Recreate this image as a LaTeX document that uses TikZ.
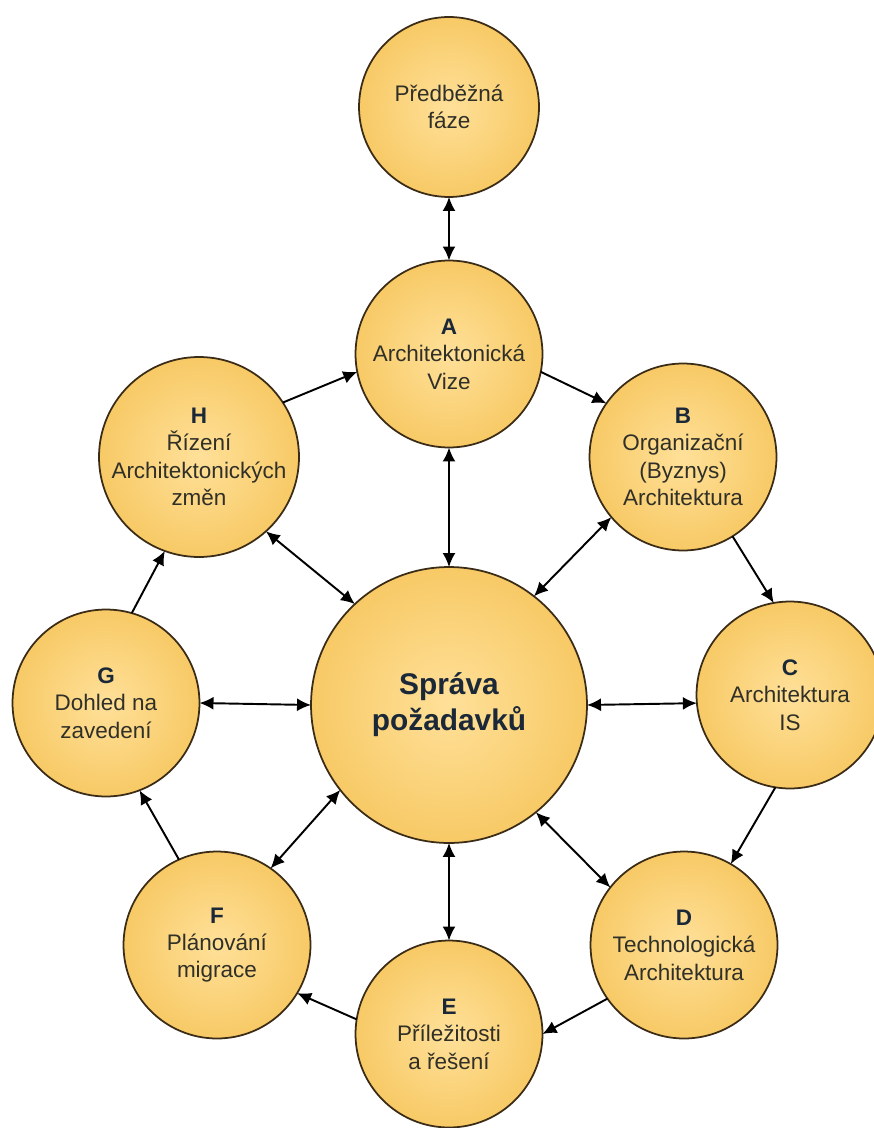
\documentclass[tikz,border=0pt]{standalone}
\usepackage{fontspec}
\setmainfont{Liberation Sans}
\usetikzlibrary{arrows.meta}
\definecolor{phaseText}{RGB}{48,48,40}
\definecolor{phaseLetter}{RGB}{26,40,56}
\definecolor{phaseRim}{RGB}{58,44,22}
\pgfdeclareradialshading{phaseGlow}{\pgfpoint{0bp}{0bp}}{rgb(0bp)=(1,0.88,0.6); rgb(50bp)=(0.94,0.70,0.2); rgb(100bp)=(0.94,0.70,0.2)}
\newcommand{\phaseSize}{3.74cm}
\newcommand{\preSize}{3.6cm}
\newcommand{\coreSize}{5.52cm}
\newcommand{\phaseTag}[1]{{\color{phaseLetter}\textbf{#1}}}

\begin{document}
\begin{tikzpicture}[x=0.02cm, y=-0.02cm,
    >={Latex[length=2.8mm,width=2.6mm]},
    phase/.style={circle, draw=phaseRim, line width=1pt, shading=phaseGlow,
      minimum size=\phaseSize, inner sep=0pt, outer sep=0pt, align=center,
      text=phaseText, font=\fontsize{12.8}{15.6}\selectfont},
    core/.style={phase, minimum size=\coreSize, text=phaseLetter,
      font=\fontsize{17}{20.5}\selectfont\bfseries},
    cycleArrow/.style={->, line width=1.1pt},
    coreArrow/.style={<->, line width=1.1pt}]
  \useasboundingbox (0,0) rectangle (874,1128);

  \node[phase, minimum size=\preSize] (pre) at (449,107) {Předběžná\\fáze};
  \node[phase] (a) at (449,354) {\phaseTag{A}\\Architektonická\\Vize};
  \node[phase] (b) at (683,457) {\phaseTag{B}\\Organizační\\(Byznys)\\Architektura};
  \node[phase] (c) at (790,695) {\phaseTag{C}\\Architektura\\IS};
  \node[phase] (d) at (684,945) {\phaseTag{D}\\Technologická\\Architektura};
  \node[phase] (e) at (449,1034) {\phaseTag{E}\\Příležitosti\\a řešení};
  \node[phase] (f) at (217,945) {\phaseTag{F}\\Plánování\\migrace};
  \node[phase] (g) at (106,703) {\phaseTag{G}\\Dohled na\\zavedení};
  \node[phase] (h) at (199,457) {\phaseTag{H}\\Řízení\\Architektonických\\změn};
  \node[core] (core) at (449,705) {Správa\\požadavků};

  % cycle A -> H
  \draw[cycleArrow] (h.33) -- (a.191);
  \draw[cycleArrow] (a.349) -- (b.145);
  \draw[cycleArrow] (b.302) -- (c.100);
  \draw[cycleArrow] (c.261) -- (d.60);
  \draw[cycleArrow] (d.215) -- (e.0);
  \draw[cycleArrow] (e.171) -- (f.329);
  \draw[cycleArrow] (f.114) -- (g.291);
  \draw[cycleArrow] (g.74) -- (h.250);

  % requirements hub
  \draw[coreArrow] (pre) -- (a);
  \draw[coreArrow] (core) -- (a);
  \draw[coreArrow] (core.52) -- (b.220);
  \draw[coreArrow] (core.0) -- (c.185);
  \draw[coreArrow] (core.309) -- (d.142);
  \draw[coreArrow] (core) -- (e);
  \draw[coreArrow] (core.218) -- (f.55);
  \draw[coreArrow] (core.180) -- (g.0);
  \draw[coreArrow] (core.133) -- (h.312);
\end{tikzpicture}
\end{document}
